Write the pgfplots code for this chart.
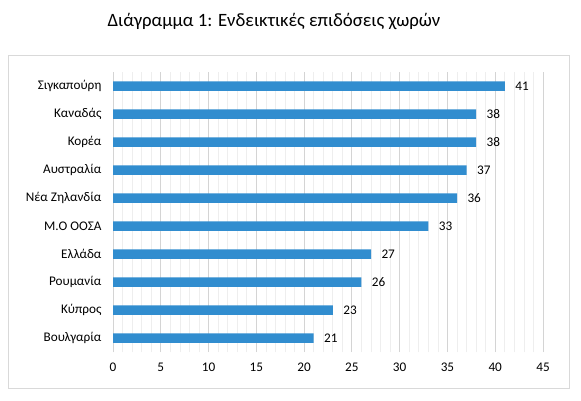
\documentclass[border=0pt]{standalone}
\usepackage{fontspec}
\setmainfont{Carlito}
\usepackage{pgfplots}
\pgfplotsset{compat=1.18}
\definecolor{barblue}{HTML}{318DCF}
\definecolor{majgrid}{HTML}{D4D4D4}
\definecolor{mingrid}{HTML}{EEEEEE}
\definecolor{framegray}{HTML}{D9D9D9}
\begin{document}
\begin{tikzpicture}
  \path[use as bounding box] (0,0) rectangle (581pt,400pt);
  \fill[white] (0,0) rectangle (581pt,400pt);
  \draw[framegray, line width=0.8pt] (8pt,12pt) rectangle (569pt,345pt);
  \node[anchor=base, inner sep=0pt] at (274pt,373pt)
    {\fontsize{18.8}{22}\selectfont Διάγραμμα 1: Ενδεικτικές επιδόσεις χωρών};
  \begin{axis}[
    at={(113pt,48pt)}, anchor=south west,
    scale only axis,
    width=430pt, height=280pt,
    xbar,
    bar width=9.5pt,
    xmin=0, xmax=45,
    ymin=-0.5, ymax=9.5,
    xtick={0,5,...,45},
    minor x tick num=4,
    xmajorgrids, xminorgrids,
    major grid style={majgrid, line width=0.8pt},
    minor grid style={mingrid, line width=0.6pt},
    ytick={0,...,9},
    yticklabels={Βουλγαρία, Κύπρος, Ρουμανία, Ελλάδα, Μ.Ο ΟΟΣΑ,
      Νέα Ζηλανδία, Αυστραλία, Κορέα, Καναδάς, Σιγκαπούρη},
    major tick length=0pt, minor tick length=0pt,
    axis x line*=bottom, axis y line*=left,
    x axis line style={draw=none},
    y axis line style={draw=majgrid, line width=0.8pt},
    /pgf/number format/assume math mode=true,
    tick label style={font=\fontsize{13.2}{15}\selectfont},
    yticklabel style={xshift=-8pt},
    xticklabel style={yshift=-7pt},
    nodes near coords,
    nodes near coords style={font=\fontsize{13.2}{15}\selectfont, xshift=7pt,
      /pgf/number format/assume math mode=true},
  ]
  \addplot[fill=barblue, draw=none] coordinates {
    (21,0) (23,1) (26,2) (27,3) (33,4) (36,5) (37,6) (38,7) (38,8) (41,9)
  };
  \end{axis}
\end{tikzpicture}
\end{document}
